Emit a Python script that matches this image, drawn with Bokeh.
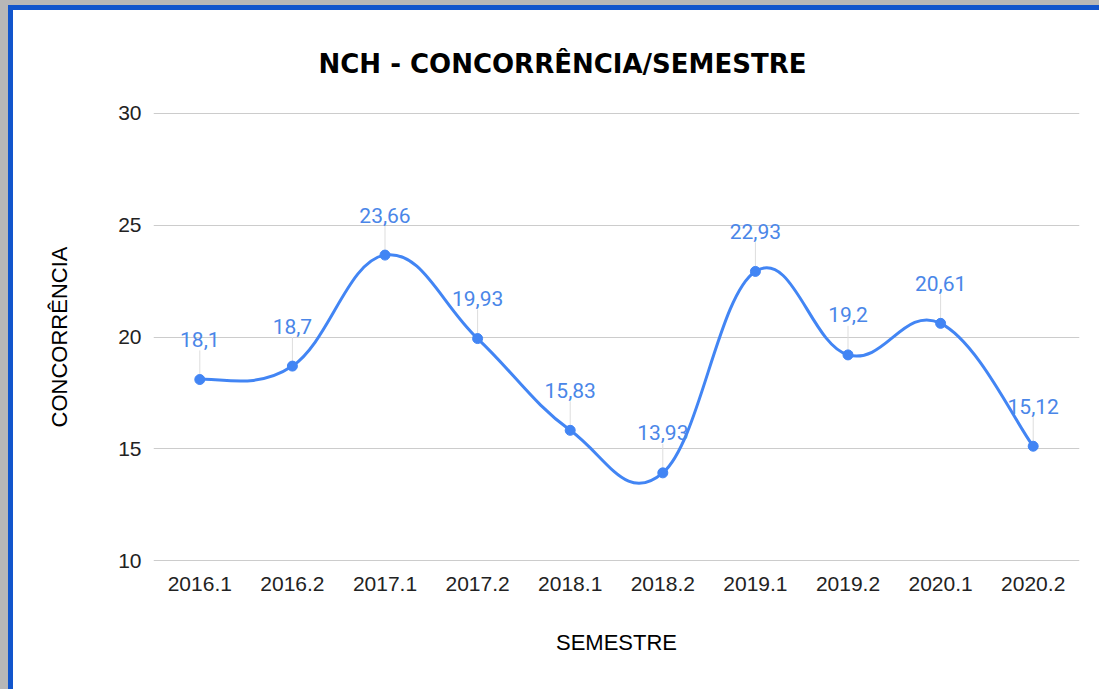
from bokeh.plotting import figure
from bokeh.models import FixedTicker, ColumnDataSource, Range1d
from bokeh.core.properties import value
from bokeh.embed import file_html
from bokeh.resources import INLINE

semesters = ["2016.1", "2016.2", "2017.1", "2017.2", "2018.1",
             "2018.2", "2019.1", "2019.2", "2020.1", "2020.2"]
concorrencia = [18.1, 18.7, 23.66, 19.93, 15.83, 13.93, 22.93, 19.2, 20.61, 15.12]
y_ticks = [10, 15, 20, 25, 30]
title_text = "NCH - CONCORRÊNCIA/SEMESTRE"
x_label = "SEMESTRE"
y_label = "CONCORRÊNCIA"

xs = list(range(len(semesters)))
labels = [str(v).replace(".", ",") for v in concorrencia]

# smooth curve (cubic bezier through the data points)
t = 0.2
n = len(xs)
bz = dict(x0=[], y0=[], x1=[], y1=[], cx0=[], cy0=[], cx1=[], cy1=[])
for i in range(n - 1):
    pm = max(i - 1, 0)
    pp = min(i + 2, n - 1)
    bz["x0"].append(xs[i]); bz["y0"].append(concorrencia[i])
    bz["x1"].append(xs[i + 1]); bz["y1"].append(concorrencia[i + 1])
    bz["cx0"].append(xs[i] + (xs[i + 1] - xs[pm]) * t)
    bz["cy0"].append(concorrencia[i] + (concorrencia[i + 1] - concorrencia[pm]) * t)
    bz["cx1"].append(xs[i + 1] - (xs[pp] - xs[i]) * t)
    bz["cy1"].append(concorrencia[i + 1] - (concorrencia[pp] - concorrencia[i]) * t)

W, H = 1091, 684
p = figure(width=W, height=H, x_range=Range1d(-0.5, len(xs) - 0.5), y_range=Range1d(9.97, 30.03),
           output_backend="svg", toolbar_location=None,
           min_border_left=140, min_border_right=25, min_border_top=102, min_border_bottom=133)
p.styles = {"border-left": "5px solid #1155cc", "border-top": "5px solid #1155cc",
            "margin-left": "8px", "margin-top": "5px", "background-color": "white"}
p.outline_line_color = None
p.background_fill_color = "white"
p.border_fill_color = "white"

p.title.text = title_text
p.title.text_font = "DejaVu Sans"
p.title.text_font_style = "bold"
p.title.text_font_size = "26px"
p.title.text_color = "#000000"
p.title.align = "left"
p.title.offset = 165
p.title.standoff = 67

src = ColumnDataSource(dict(x=xs, y=concorrencia, lab=labels,
                            ly=[v + 1.3 for v in concorrencia]))

p.segment(x0="x", y0="y", x1="x", y1="ly", source=src, line_color="#dddddd", line_width=1)
p.bezier(source=ColumnDataSource(bz), x0="x0", y0="y0", x1="x1", y1="y1",
         cx0="cx0", cy0="cy0", cx1="cx1", cy1="cy1", line_color="#4285f4", line_width=3)
p.scatter(x="x", y="y", source=src, size=10, color="#4285f4")
p.text(x="x", y="y", text="lab", source=src, y_offset=-40, text_align="center",
       text_baseline="middle", text_font=value("Roboto"), text_font_size="21px",
       text_color="#4a86e8")

p.xgrid.visible = False
p.ygrid.grid_line_color = "#cccccc"
p.ygrid.grid_line_width = 1

xa = p.xaxis[0]
xa.ticker = FixedTicker(ticks=xs)
xa.major_label_overrides = {i: s for i, s in zip(xs, semesters)}
ya = p.yaxis[0]
ya.ticker = FixedTicker(ticks=y_ticks)
p.ygrid.ticker = FixedTicker(ticks=y_ticks)
for ax in (xa, ya):
    ax.axis_line_color = None
    ax.major_tick_line_color = None
    ax.minor_tick_line_color = None
    ax.major_tick_out = 0
    ax.major_tick_in = 0
    ax.minor_tick_out = 0
    ax.minor_tick_in = 0
    ax.major_label_text_font = "Liberation Sans"
    ax.major_label_text_font_size = "21px"
    ax.major_label_text_color = "#222222"
    ax.axis_label_text_font = "Liberation Sans"
    ax.axis_label_text_font_size = "22px"
    ax.axis_label_text_font_style = "normal"
    ax.axis_label_text_color = "#000000"
xa.major_label_standoff = 15
ya.major_label_standoff = 12
xa.axis_label = x_label
ya.axis_label = y_label
xa.axis_label_standoff = 36
ya.axis_label_standoff = 43

html = file_html(p, INLINE)
html = html.replace("<head>", "<head><style>body{background:#b7b7b7;}</style>", 1)
open("out.html", "w").write(html)
